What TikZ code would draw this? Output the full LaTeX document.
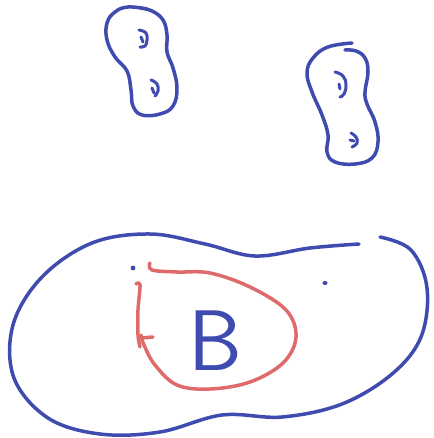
\documentclass[tikz,border=0pt]{standalone}
\usepackage{tikz}
\definecolor{inkblue}{HTML}{3F4BAF}
\definecolor{inkred}{HTML}{E06A6A}

\begin{document}
\begin{tikzpicture}[
    x=1pt, y=-1pt,
    pen/.style={line width=3.5pt, line cap=round, line join=round},
    bluepen/.style={pen, draw=inkblue},
    redpen/.style={pen, draw=inkred},
    speck/.style={fill=inkblue, draw=none}
]
    \useasboundingbox (0,0) rectangle (433,438);

    % top left blob
    \draw[bluepen] plot[smooth, tension=0.7] coordinates {(140,8) (152,11) (163,20) (167,35) (167,52) (173,68) (177,88) (173,106) (160,114) (142,115) (133,106) (131,90) (127,71) (115,57) (107,40) (107,23) (115,12) (128,7) (147,9)};
    \draw[bluepen, line width=3pt] plot[smooth, tension=0.8] coordinates {(139,30) (146,33) (147,40) (145,46) (140,47)};
    \draw[bluepen, line width=3pt] (141,37) -- (143,42);
    \draw[bluepen, line width=3pt] plot[smooth, tension=0.8] coordinates {(151,80) (157,84) (158,91) (155,96)};
    \draw[bluepen, line width=3pt] (152,88) -- (154,93);

    % top right blob
    \draw[bluepen] plot[smooth, tension=0.7] coordinates {(352,43) (328,47) (313,58) (307,73) (312,92) (322,115) (328,135) (327,152) (335,162) (355,164) (372,158) (378,142) (375,122) (367,104) (365,92) (368,72) (365,58) (356,51) (345,50)};
    \draw[bluepen, line width=3pt] plot[smooth, tension=0.8] coordinates {(335,72) (343,76) (346,85) (344,94) (340,97)};
    \draw[bluepen, line width=3pt] (339,84) -- (340,89);
    \draw[bluepen, line width=3pt] plot[smooth, tension=0.8] coordinates {(351,133) (356,137) (357,143) (352,147)};
    \draw[bluepen, line width=3pt] (350,140) -- (354,141);

    % big outer blob
    \draw[bluepen] plot[smooth, tension=0.6] coordinates {(359,244) (310,248) (255,256) (205,244) (150,234) (92,243) (42,277) (13,325) (14,378) (48,418) (100,434) (160,432) (222,415) (282,417) (342,404) (392,374) (421,337) (427,288) (411,250) (380,237)};
    \fill[speck] (133,268) circle (2.4pt);
    \fill[speck] (325,283) ellipse (2.6pt and 2pt);

    % red loop round B
    \draw[redpen] plot[smooth, tension=0.6] coordinates {(150,263) (152,270) (177,272) (210,273) (250,287) (286,310) (296,337) (283,363) (250,382) (210,389) (177,385) (155,365) (144,345) (141,335)};
    \draw[redpen] plot[smooth, tension=0.5] coordinates {(136,284) (140,285) (138,310) (138,335) (140,347)};
    \draw[redpen] (141,338) -- (153,337);

    % letter
    \node[text=inkblue, inner sep=0pt, font=\sffamily\fontsize{86}{86}\selectfont] (letterB) at (215,341) {B};
\end{tikzpicture}
\end{document}
